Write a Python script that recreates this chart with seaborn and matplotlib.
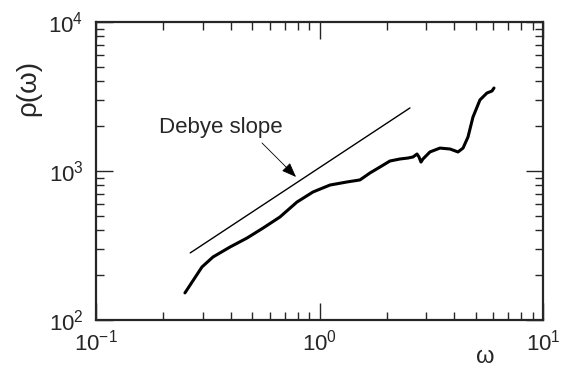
import numpy as np
import pandas as pd
import matplotlib
matplotlib.use("Agg")
import matplotlib.pyplot as plt
import seaborn as sns
from matplotlib.ticker import LogLocator, NullFormatter, FixedLocator

omega = [0.250, 0.298, 0.334, 0.398, 0.474, 0.559, 0.665, 0.793, 0.935, 1.114,
         1.327, 1.517, 1.682, 1.866, 2.066, 2.291, 2.488, 2.620, 2.731, 2.787,
         2.845, 2.904, 3.119, 3.459, 3.836, 4.166, 4.387, 4.617, 4.860, 5.223,
         5.612, 5.911, 6.036]
rho = [152, 227, 265, 309, 355, 414, 491, 619, 723, 805,
       844, 871, 970, 1064, 1167, 1204, 1222, 1242, 1300, 1242,
       1148, 1204, 1342, 1425, 1405, 1342, 1425, 1690, 2301, 2999,
       3337, 3443, 3606]

debye_omega = [0.264, 2.54]
debye_rho = [282, 2650]

arrow_head = (0.785, 912)
arrow_tail = (0.553, 1542)
label_pos = (0.362, 1945)

xticks = [0.1, 1, 10]
xticklabels = [r"$\mathregular{10^{-1}}$", r"$\mathregular{10^{0}}$", r"$\mathregular{10^{1}}$"]
yticks = [100, 1000, 10000]
yticklabels = [r"$\mathregular{10^{2}}$", r"$\mathregular{10^{3}}$", r"$\mathregular{10^{4}}$"]

sns.set_style("ticks")
plt.rcParams["font.family"] = ["Liberation Sans", "DejaVu Sans"]

fig = plt.figure(figsize=(5.66, 3.68), dpi=100)
ax = fig.add_axes([96/566, 1-320/368, (543-96)/566, (320-22)/368])

df = pd.DataFrame({"omega": omega, "rho": rho})
sns.lineplot(data=df, x="omega", y="rho", ax=ax, color="black", lw=2.2, sort=False,
             solid_joinstyle="round", solid_capstyle="round")
dfd = pd.DataFrame({"omega": debye_omega, "rho": debye_rho})
sns.lineplot(data=dfd, x="omega", y="rho", ax=ax, color="black", lw=1.0, sort=False)

ax.set_xscale("log")
ax.set_yscale("log")
ax.set_xlim(0.1, 10)
ax.set_ylim(100, 10000)

ax.xaxis.set_major_locator(FixedLocator(xticks))
ax.yaxis.set_major_locator(FixedLocator(yticks))
ax.set_xticklabels(xticklabels)
ax.set_yticklabels(yticklabels)
ax.xaxis.set_minor_locator(LogLocator(base=10, subs=np.arange(2, 10)))
ax.yaxis.set_minor_locator(LogLocator(base=10, subs=np.arange(2, 10)))
ax.xaxis.set_minor_formatter(NullFormatter())
ax.yaxis.set_minor_formatter(NullFormatter())

for s in ax.spines.values():
    s.set_linewidth(1.6)
    s.set_visible(True)
ax.tick_params(which="major", direction="in", length=12, width=1.0,
               top=True, right=True, labelsize=16)
ax.tick_params(axis="x", which="major", pad=7)
ax.tick_params(axis="y", which="major", pad=9)
ax.tick_params(which="minor", direction="in", length=6, width=1.0,
               top=True, right=True)

ax.set_xlabel("ω", fontsize=17)
ax.xaxis.label.set_va("center")
ax.xaxis.set_label_coords((485-96)/447, (320-357)/298)
ax.set_ylabel("ρ(ω)", fontsize=20)
ax.yaxis.label.set_va("center")
ax.yaxis.set_label_coords((28-96)/447, (320-88)/298)

ax.text(label_pos[0], label_pos[1], "Debye slope", fontsize=16,
        ha="center", va="center")
ax.annotate("", xy=arrow_head, xytext=arrow_tail,
            arrowprops=dict(arrowstyle="-|>,head_length=0.9,head_width=0.35",
                            lw=0.6, color="black", shrinkA=0, shrinkB=0))

ax.grid(False)
fig.savefig("out.png", dpi=100)
